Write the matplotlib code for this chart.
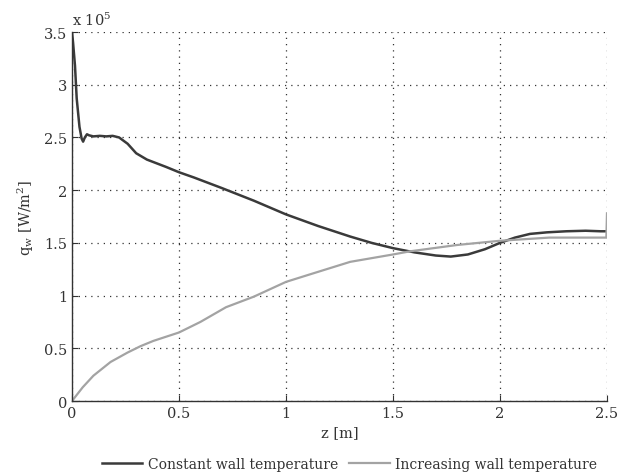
import matplotlib
matplotlib.use("Agg")
import matplotlib.pyplot as plt

plt.rcParams['font.family'] = ['DejaVu Serif']
plt.rcParams['mathtext.fontset'] = 'dejavuserif'

# Constant wall temperature
z_const = [0, 0.005, 0.014, 0.022, 0.035, 0.045, 0.052, 0.06, 0.07, 0.08, 0.1, 0.13, 0.16,
           0.19, 0.22, 0.26, 0.30, 0.35, 0.44, 0.5, 0.57, 0.7, 0.85, 1.0, 1.15, 1.3, 1.4,
           1.5, 1.6, 1.7, 1.77, 1.85, 1.93, 2.0, 2.07, 2.14, 2.22, 2.31, 2.4, 2.47, 2.5]
q_const = [3.5, 3.4, 3.18, 2.87, 2.6, 2.49, 2.46, 2.5, 2.53, 2.52, 2.51, 2.515, 2.51,
           2.515, 2.5, 2.44, 2.35, 2.29, 2.22, 2.17, 2.12, 2.02, 1.9, 1.77, 1.66, 1.56, 1.5,
           1.45, 1.41, 1.38, 1.37, 1.39, 1.44, 1.50, 1.55, 1.585, 1.60, 1.61, 1.615, 1.61, 1.61]

# Increasing wall temperature
z_incr = [0, 0.05, 0.1, 0.18, 0.26, 0.32, 0.38, 0.44, 0.5, 0.6, 0.72, 0.85, 1.0, 1.11,
          1.3, 1.5, 1.58, 1.8, 2.0, 2.23, 2.4, 2.497, 2.5]
q_incr = [0.0, 0.13, 0.24, 0.37, 0.46, 0.52, 0.57, 0.61, 0.65, 0.75, 0.89, 0.99, 1.13, 1.2,
          1.32, 1.39, 1.42, 1.48, 1.52, 1.55, 1.55, 1.55, 1.78]

xticks = [0, 0.5, 1, 1.5, 2, 2.5]
xticklabels = ['0', '0.5', '1', '1.5', '2', '2.5']
yticks = [0, 0.5, 1, 1.5, 2, 2.5, 3, 3.5]
yticklabels = ['0', '0.5', '1', '1.5', '2', '2.5', '3', '3.5']

fig = plt.figure(figsize=(6.19, 4.77), dpi=100)
ax = fig.add_axes([0.1163, 0.1572, 0.8643, 0.7736])

l1, = ax.plot(z_const, q_const, color='#3a3a3a', lw=1.8, label='Constant wall temperature')
l2, = ax.plot(z_incr, q_incr, color='#a3a3a3', lw=1.6, label='Increasing wall temperature')

ax.set_xlim(0, 2.5)
ax.set_ylim(0, 3.5)
ax.set_xticks(xticks)
ax.set_xticklabels(xticklabels)
ax.set_yticks(yticks)
ax.set_yticklabels(yticklabels)
ax.tick_params(direction='in', length=4, labelsize=10.5, colors='#333333', width=0.8)
for s in ['top', 'right']:
    ax.spines[s].set_visible(False)
for s in ['left', 'bottom']:
    ax.spines[s].set_color('#333333')
    ax.spines[s].set_linewidth(1.0)
ax.grid(True, linestyle=(0, (1, 4)), color='#333333', linewidth=0.9)
ax.set_axisbelow(True)

ax.set_xlabel('z [m]', fontsize=10.5, color='#333333', labelpad=4)
ax.set_ylabel(r'q$_\mathregular{w}$ [W/m$^\mathregular{2}$]', fontsize=10.5, color='#333333', labelpad=6)
ax.text(0.0, 1.012, r'x 10$^\mathregular{5}$', transform=ax.transAxes, fontsize=10.5,
        color='#333333', ha='left', va='bottom')

fig.legend(handles=[l1, l2], loc='center', bbox_to_anchor=(0.565, 0.025), ncol=2,
           frameon=False, fontsize=10, handlelength=2.9, columnspacing=0.8,
           handletextpad=0.4, labelcolor='#333333')

fig.savefig('out.png', dpi=100)
